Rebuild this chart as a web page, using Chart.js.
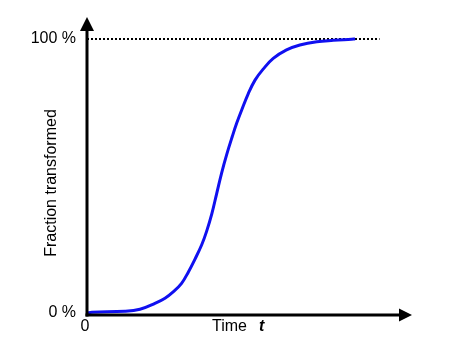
<!DOCTYPE html>
<html>
<head>
<meta charset="utf-8">
<script src="https://cdn.jsdelivr.net/npm/chart.js@4"></script>
<style>
  html, body { margin: 0; padding: 0; background: #ffffff; }
  #wrap { width: 450px; height: 354px; }
</style>
</head>
<body>
<div id="wrap"><canvas id="c" width="450" height="354"></canvas></div>
<script>
// Data (time in arbitrary units, fraction in %)
const timeValues = [0, 0.15, 1.17, 1.63, 2.09, 2.40, 2.66, 2.91, 3.12, 3.32, 3.53, 3.68, 3.84, 3.99, 4.14, 4.30, 4.47, 4.61, 4.76, 4.96, 5.17, 5.42, 5.73, 6.14, 6.55, 7.07, 7.58, 8.14, 8.25];
const fractionValues = [0, 0.3, 0.6, 1.35, 3.5, 5.4, 7.8, 10.8, 15.0, 19.6, 24.9, 29.8, 36.2, 43.6, 51, 57.9, 64.4, 69.4, 74.1, 80.0, 85.0, 89.0, 92.9, 96, 97.8, 99, 99.5, 99.9, 100];
const referenceTimes = [0, 9.0];
const referenceLevel = [100, 100];
const yTickValues = [0, 100];
const yTickLabels = ['0 %', '100 %'];
const xTickValues = [0];
const xTickLabels = ['0'];
const xTitle = 'Time';
const xTitleVar = 't';
const yTitle = 'Fraction transformed';

const FONT = '16px "Liberation Sans", Arial, sans-serif';

const axesPlugin = {
  id: 'axesPlugin',
  afterDatasetsDraw(chart) {
    const ctx = chart.ctx;
    const xs = chart.scales.x, ys = chart.scales.y;
    const x0 = xs.getPixelForValue(0);
    const y0 = ys.getPixelForValue(0) + 2;
    const xEnd = xs.getPixelForValue(xs.max);
    const yTop = ys.getPixelForValue(ys.max) - 22;
    ctx.save();
    ctx.strokeStyle = '#000';
    ctx.fillStyle = '#000';
    ctx.lineWidth = 3;
    // y axis
    ctx.beginPath();
    ctx.moveTo(x0, y0 + 1.5);
    ctx.lineTo(x0, yTop + 10);
    ctx.stroke();
    ctx.beginPath();
    ctx.moveTo(x0, yTop);
    ctx.lineTo(x0 - 7, yTop + 14);
    ctx.lineTo(x0 + 7, yTop + 14);
    ctx.closePath();
    ctx.fill();
    // x axis
    ctx.beginPath();
    ctx.moveTo(x0 - 1.5, y0);
    ctx.lineTo(xEnd - 10, y0);
    ctx.stroke();
    ctx.beginPath();
    ctx.moveTo(xEnd, y0);
    ctx.lineTo(xEnd - 13, y0 - 6.5);
    ctx.lineTo(xEnd - 13, y0 + 6.5);
    ctx.closePath();
    ctx.fill();

    // tick labels
    ctx.font = FONT;
    ctx.textAlign = 'right';
    ctx.textBaseline = 'middle';
    yTickValues.forEach((v, i) => {
      ctx.fillText(yTickLabels[i], x0 - 11, ys.getPixelForValue(v) - 0.5);
    });
    ctx.textAlign = 'center';
    xTickValues.forEach((v, i) => {
      ctx.fillText(xTickLabels[i], xs.getPixelForValue(v) - 2, y0 + 12);
    });
    // x title
    ctx.textAlign = 'left';
    ctx.fillText(xTitle, x0 + 125, y0 + 12);
    ctx.font = 'italic bold 16px "Liberation Sans", Arial, sans-serif';
    ctx.fillText(xTitleVar, x0 + 172, y0 + 12);
    // y title
    ctx.font = FONT;
    ctx.translate(x0 - 35, (ys.getPixelForValue(0) + ys.getPixelForValue(100)) / 2 + 7);
    ctx.rotate(-Math.PI / 2);
    ctx.textAlign = 'center';
    ctx.fillText(yTitle, 0, 0);
    ctx.restore();
  }
};

new Chart(document.getElementById('c'), {
  type: 'line',
  data: {
    datasets: [
      {
        data: referenceTimes.map((t, i) => ({ x: t, y: referenceLevel[i] })),
        borderColor: '#000',
        borderWidth: 2,
        borderDash: [2, 2],
        pointRadius: 0,
        clip: false,
        order: 2
      },
      {
        data: timeValues.map((t, i) => ({ x: t, y: fractionValues[i] })),
        borderColor: '#1010f0',
        borderWidth: 3,
        pointRadius: 0,
        tension: 0.4,
        clip: false,
        order: 1
      }
    ]
  },
  options: {
    responsive: false,
    animation: false,
    layout: { padding: { left: 87, right: 38, top: 39, bottom: 41 } },
    plugins: { legend: { display: false }, tooltip: { enabled: false } },
    scales: {
      x: { type: 'linear', min: 0, max: 10, display: false },
      y: { type: 'linear', min: 0, max: 100, display: false }
    }
  },
  plugins: [axesPlugin]
});
</script>
</body>
</html>
